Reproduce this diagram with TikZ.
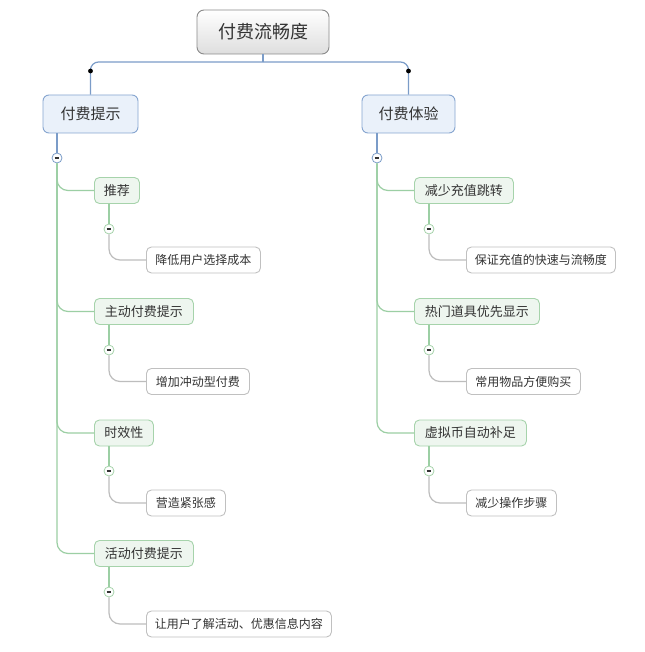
\documentclass[tikz,border=0pt]{standalone}
\usepackage{fontspec}
\newfontfamily\cjk{Noto Sans CJK SC}
\definecolor{txt}{HTML}{333333}
\definecolor{rootbd}{HTML}{8A8A8A}
\definecolor{lonebd}{HTML}{86A5D0}
\definecolor{lonefill}{HTML}{EAF1FA}
\definecolor{ltwobd}{HTML}{A6D3AB}
\definecolor{ltwofill}{HTML}{EEF6EF}
\definecolor{lthreebd}{HTML}{C0C0C0}
\definecolor{linblue}{HTML}{7B9CC8}
\definecolor{lingreen}{HTML}{9CCFA4}
\definecolor{lingray}{HTML}{BDBDBD}
\tikzset{
  base/.style={rounded corners=5pt, text=txt, inner sep=0pt, minimum height=26pt, font=\cjk, line width=0.9pt},
  rootbox/.style={base, draw=rootbd, top color=white, bottom color=black!13, minimum height=44pt, rounded corners=7pt, font=\cjk\fontsize{18}{21}\selectfont},
  lonebox/.style={base, draw=lonebd, fill=lonefill, minimum height=38pt, rounded corners=6pt, font=\cjk\fontsize{15}{18}\selectfont},
  ltwobox/.style={base, draw=ltwobd, fill=ltwofill, anchor=west, font=\cjk\fontsize{13}{15}\selectfont},
  lthreebox/.style={base, draw=lthreebd, fill=white, anchor=west, font=\cjk\fontsize{12}{14}\selectfont},
  tog/.style={circle, draw=#1, fill=white, minimum size=10pt, inner sep=0pt, line width=0.8pt,
    path picture={\draw[line width=1.3pt, black!80] ([xshift=-2.3pt]path picture bounding box.center) -- ([xshift=2.3pt]path picture bounding box.center);}},
  bline/.style={draw=linblue, line width=1.2pt},
  gline/.style={draw=lingreen, line width=1.2pt},
  yline/.style={draw=lingray, line width=1.2pt},
}
\begin{document}
\begin{tikzpicture}[x=1pt,y=-1pt]
\useasboundingbox[fill=white] (0,0) rectangle (644,652);

% root and level 1
\node[rootbox, minimum width=132pt] (root) at (263,32) {付费流畅度};
\node[lonebox, minimum width=95pt] (p1) at (90.5,114) {付费提示};
\node[lonebox, minimum width=93pt] (p2) at (408.5,114) {付费体验};
\coordinate (hub) at (263,62);
\coordinate (d1) at (90.5,71);
\coordinate (d2) at (408.5,71);
\draw[bline] (root.south) -- (hub);
\draw[bline, rounded corners=8pt] (hub) -| (p1.north);
\draw[bline, rounded corners=8pt] (hub) -| (p2.north);
\fill (d1) circle (2.4pt);
\fill (d2) circle (2.4pt);

% toggles under level 1
\node[tog=linblue] (c1) at (57,158) {};
\node[tog=linblue] (c2) at (377,158) {};
\draw[bline] (p1.south -| c1) -- (c1);
\draw[bline] (p2.south -| c2) -- (c2);

% left level 2
\node[ltwobox, minimum width=45pt] (a1) at (94,190.5) {推荐};
\node[ltwobox, minimum width=99pt] (a2) at (94,311.5) {主动付费提示};
\node[ltwobox, minimum width=59pt] (a3) at (94,433) {时效性};
\node[ltwobox, minimum width=99pt] (a4) at (94,553.5) {活动付费提示};
\foreach \n in {a1,a2,a3,a4}{\draw[gline, rounded corners=11pt] (c1.south) |- (\n.west);}

% right level 2
\node[ltwobox, minimum width=99pt] (e1) at (414,190.5) {减少充值跳转};
\node[ltwobox, minimum width=125pt] (e2) at (414,311.5) {热门道具优先显示};
\node[ltwobox, minimum width=112pt] (e3) at (414,433) {虚拟币自动补足};
\foreach \n in {e1,e2,e3}{\draw[gline, rounded corners=11pt] (c2.south) |- (\n.west);}

% left level 3
\node[tog=ltwobd] (ca1) at (109,229) {};
\node[tog=ltwobd] (ca2) at (109,350) {};
\node[tog=ltwobd] (ca3) at (109,471) {};
\node[tog=ltwobd] (ca4) at (109,592) {};
\node[lthreebox, minimum width=114pt] (b1) at (146,260) {降低用户选择成本};
\node[lthreebox, minimum width=103pt] (b2) at (146,381.5) {增加冲动型付费};
\node[lthreebox, minimum width=79pt] (b3) at (146,503) {营造紧张感};
\node[lthreebox, minimum width=185pt] (b4) at (146,624) {让用户了解活动、优惠信息内容};

% right level 3
\node[tog=ltwobd] (ce1) at (429,229) {};
\node[tog=ltwobd] (ce2) at (429,350) {};
\node[tog=ltwobd] (ce3) at (429,471) {};
\node[lthreebox, minimum width=149pt] (f1) at (466,260) {保证充值的快速与流畅度};
\node[lthreebox, minimum width=114pt] (f2) at (466,381.5) {常用物品方便购买};
\node[lthreebox, minimum width=90pt] (f3) at (466,503) {减少操作步骤};

\foreach \p/\c/\q in {a1/ca1/b1, a2/ca2/b2, a3/ca3/b3, a4/ca4/b4, e1/ce1/f1, e2/ce2/f2, e3/ce3/f3}{
  \draw[gline] (\p.south -| \c) -- (\c);
  \draw[yline, rounded corners=11pt] (\c.south) |- (\q.west);
}
\end{tikzpicture}
\end{document}
